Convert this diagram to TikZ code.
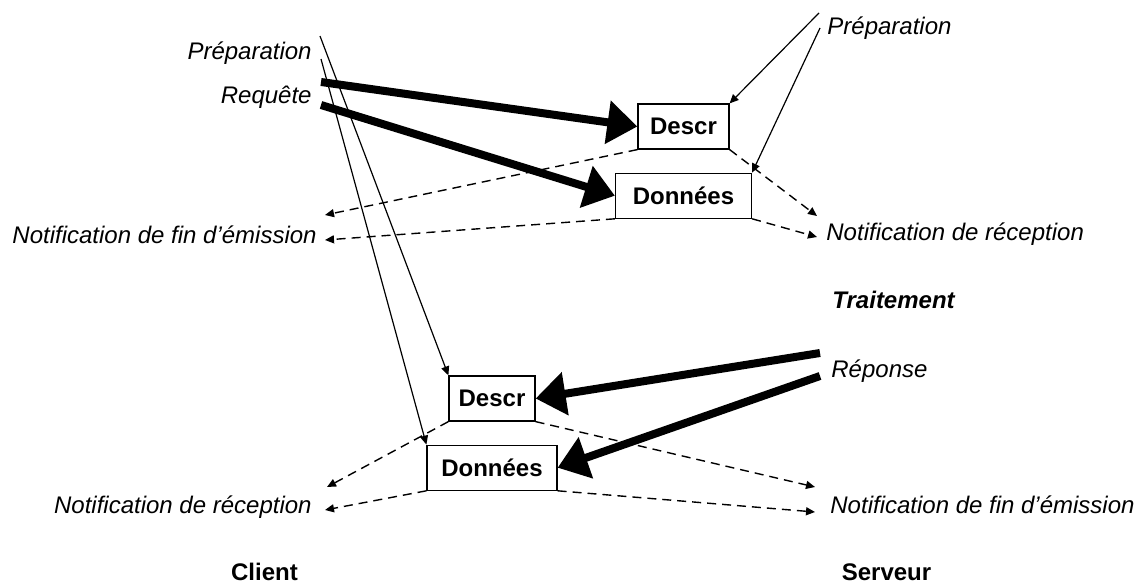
\documentclass[tikz,border=0pt]{standalone}
\usepackage{fontspec}
\setmainfont{Liberation Sans}
\usetikzlibrary{positioning,arrows.meta}
\definecolor{csink}{RGB}{0,0,0}
\tikzset{
  cs/.style={font=\fontsize{12}{14}\selectfont, text=csink},
  csbox/.style={
    cs, font=\fontsize{12}{14}\selectfont\bfseries, draw=csink, fill=white,
    line width=0.6pt, inner sep=0pt, minimum height=22.5pt
  },
  cslbl/.style={cs, font=\fontsize{12}{14}\selectfont\itshape, inner sep=0pt},
  cstitle/.style={cs, font=\fontsize{12}{14}\selectfont\bfseries, inner sep=0pt},
  csarr/.style={-{Triangle[length=4.5pt,width=4pt]}, line width=0.6pt, draw=csink},
  csdarr/.style={csarr, line width=0.7pt, dash pattern=on 4.5pt off 3pt},
  csbig/.style={-{Triangle[length=15pt,width=21pt]}, line width=4pt, draw=csink},
}

\begin{document}
\begin{tikzpicture}[cs, x=0.5pt, y=-0.5pt]
    \useasboundingbox (0,0) rectangle (1138,583);

    % paquets requete / reponse
    \node[csbox, minimum width=45.5pt] (rqdescr) at (683.5,126.5) {Descr};
    \node[csbox, minimum width=68pt, below=11.5pt of rqdescr] (rqdata) {Données};
    \node[csbox, minimum width=43pt] (rpdescr) at (492,398.5) {Descr};
    \node[csbox, minimum width=65pt, below=11.5pt of rpdescr] (rpdata) {Données};

    % cote client
    \node[cslbl, anchor=base east] (cprep) at (312,60) {Préparation};
    \node[cslbl, anchor=base east] (creq) at (312,104) {Requête};
    \node[cslbl, anchor=base east] (cfin) at (317,243) {Notification de fin d’émission};
    \node[cslbl, anchor=base east] (crecep) at (312,513) {Notification de réception};
    \node[cstitle, anchor=base] (client) at (264.5,580) {Client};

    % cote serveur
    \node[cslbl, anchor=base west] (sprep) at (827,35) {Préparation};
    \node[cslbl, anchor=base west] (srecep) at (826,240) {Notification de réception};
    \node[cslbl, anchor=base west, font=\fontsize{12}{14}\selectfont\bfseries\itshape] (strait) at (832,308) {Traitement};
    \node[cslbl, anchor=base west] (srep) at (831,377) {Réponse};
    \node[cslbl, anchor=base west] (sfin) at (830,513) {Notification de fin d’émission};
    \node[cstitle, anchor=base] (serveur) at (886.5,580) {Serveur};

    \coordinate (cpa) at (320,36);
    \coordinate (cpb) at (321,59);
    \coordinate (cra) at (321,82);
    \coordinate (crb) at (321,105);
    \coordinate (spa) at (819,13);
    \coordinate (spb) at (820,28);
    \coordinate (sra) at (820,353);
    \coordinate (srb) at (820,376);
    \coordinate (cfa) at (325,215);
    \coordinate (cfb) at (325,240);
    \coordinate (sna) at (817,216);
    \coordinate (snb) at (817,237);
    \coordinate (cna) at (327,487);
    \coordinate (cnb) at (325,510);
    \coordinate (sfa) at (815,487);
    \coordinate (sfb) at (815,512);

    \draw[csarr] (cpa) -- (rpdescr.north west);
    \draw[csarr] (cpb) -- (rpdata.north west);
    \draw[csarr] (spa) -- (rqdescr.north east);
    \draw[csarr] (spb) -- (rqdata.north east);

    \foreach \a/\b in {rqdescr.south west/cfa, rqdata.south west/cfb,
                       rqdescr.south east/sna, rqdata.south east/snb,
                       rpdescr.south west/cna, rpdata.south west/cnb,
                       rpdescr.south east/sfa, rpdata.south east/sfb}
      \draw[csdarr] (\a) -- (\b);

    \draw[csbig] (cra) -- (rqdescr.west);
    \draw[csbig] (crb) -- (rqdata.west);
    \draw[csbig] (sra) -- (rpdescr.east);
    \draw[csbig] (srb) -- (rpdata.east);
  \end{tikzpicture}
\end{document}
